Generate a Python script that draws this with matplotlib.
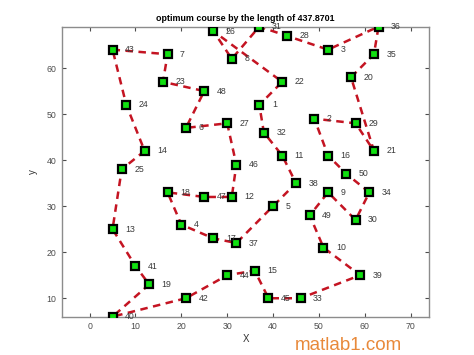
"""TSP optimum course plot (50 cities)"""

import matplotlib
matplotlib.use("Agg")
import matplotlib.pyplot as plt

plt.rcParams["font.family"] = ["Liberation Sans", "DejaVu Sans"]

# city coordinates, city i+1 at index i
city_x = [37, 49, 52, 20, 40, 21, 17, 31, 52, 51, 42, 31, 5, 12, 36, 52, 27, 17, 13, 57,
          62, 42, 16, 8, 7, 27, 30, 43, 58, 58, 37, 38, 46, 61, 62, 63, 32, 45, 59, 5,
          10, 21, 5, 30, 39, 32, 25, 25, 48, 56]
city_y = [52, 49, 64, 26, 30, 47, 63, 62, 33, 21, 41, 32, 25, 42, 16, 41, 23, 33, 13, 58,
          42, 57, 57, 52, 38, 68, 48, 67, 48, 27, 69, 46, 10, 33, 63, 69, 22, 35, 15, 6,
          17, 10, 64, 15, 10, 39, 32, 55, 28, 37]

# visiting order (1-based city numbers)
route = [43, 7, 23, 48, 6, 27, 46, 12, 47, 18, 4, 17, 37, 5, 38, 11, 32, 1, 22, 26,
         8, 31, 28, 3, 36, 35, 20, 21, 29, 2, 16, 50, 34, 30, 9, 49, 10, 39, 33, 45,
         15, 44, 42, 40, 19, 41, 13, 25, 14, 24]
route_length = 437.8701

fig = plt.figure(figsize=(4.74, 3.55), dpi=100)
ax = fig.add_axes([0.131, 0.108, 0.774, 0.817])

# closed tour
order = route + [route[0]]
rx = [city_x[c - 1] for c in order]
ry = [city_y[c - 1] for c in order]
ax.plot(rx, ry, "--", color="#c41422", linewidth=1.8, dashes=(3, 2.2), zorder=2)
ax.plot(city_x, city_y, "s", markerfacecolor="#10e010", markeredgecolor="black",
        markersize=6.3, markeredgewidth=1.6, linestyle="none", zorder=3)

for i, (x, y) in enumerate(zip(city_x, city_y)):
    ax.annotate(str(i + 1), (x, y), textcoords="offset points", xytext=(9, 0),
                ha="left", va="center", fontsize=6.3, color="#3a3a3a", zorder=4)

ax.set_xlim(-6, 74)
ax.set_ylim(6, 69)
ax.set_xticks(range(0, 71, 10))
ax.set_yticks(range(10, 61, 10))
ax.tick_params(direction="in", top=True, right=True, labelsize=6.3, colors="#4d4d4d",
               length=3, width=0.8, pad=4)
for s in ax.spines.values():
    s.set_color("#8c8c8c")
    s.set_linewidth(1.0)

ax.set_xlabel("X", fontsize=7, color="#333333", labelpad=2)
ax.set_ylabel("y", fontsize=7, color="#333333", labelpad=6)
ax.set_title(f"optimum course by the length of {route_length:.4f}", fontsize=6.4,
             fontweight="bold", pad=4)

fig.text(0.622, 0.028, "matlab1.com", fontsize=13.5, color="#e8893a", ha="left", va="center")

fig.savefig("out.png", dpi=100)
